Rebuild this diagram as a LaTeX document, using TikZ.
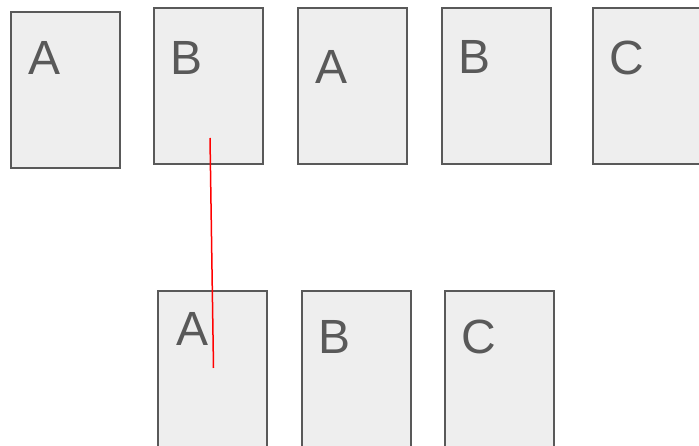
\documentclass[tikz,border=0pt]{standalone}
\usepackage{fontspec}
\setmainfont{Liberation Sans}
\definecolor{cardfill}{HTML}{EEEEEE}
\definecolor{cardline}{HTML}{595959}
\begin{document}
\begin{tikzpicture}[x=1pt, y=-1pt,
    card/.style={rectangle, draw=cardline, fill=cardfill, line width=2pt, anchor=north west, minimum width=109pt, minimum height=156pt, inner sep=0pt, outer sep=0pt},
    letter/.style={anchor=base west, inner sep=0pt, text=cardline, font=\fontsize{48}{48}\selectfont}]
    \useasboundingbox (0,0) rectangle (699,446);
    \clip (0,0) rectangle (699,446);

    % upper row
    \node[card] (t1) at (11,12) {};
    \node[card] (t2) at (154,8) {};
    \node[card] (t3) at (298,8) {};
    \node[card] (t4) at (442,8) {};
    \node[card] (t5) at (593,8) {};

    \node[letter] (lt1) at (28,75) {A};
    \node[letter] (lt2) at (170,75) {B};
    \node[letter] (lt3) at (315,84) {A};
    \node[letter] (lt4) at (458,74) {B};
    \node[letter] (lt5) at (609,75) {C};

    % lower row
    \node[card, minimum height=170pt] (b1) at (158,291) {};
    \node[card, minimum height=170pt] (b2) at (302,291) {};
    \node[card, minimum height=170pt] (b3) at (445,291) {};

    \node[letter] (lb1) at (176,346) {A};
    \node[letter] (lb2) at (318,354) {B};
    \node[letter] (lb3) at (461,354) {C};

    \coordinate (from) at (210,138);
    \coordinate (to) at (213.5,368);
    \draw[red, line width=1.5pt] (from) -- (to);
\end{tikzpicture}
\end{document}
